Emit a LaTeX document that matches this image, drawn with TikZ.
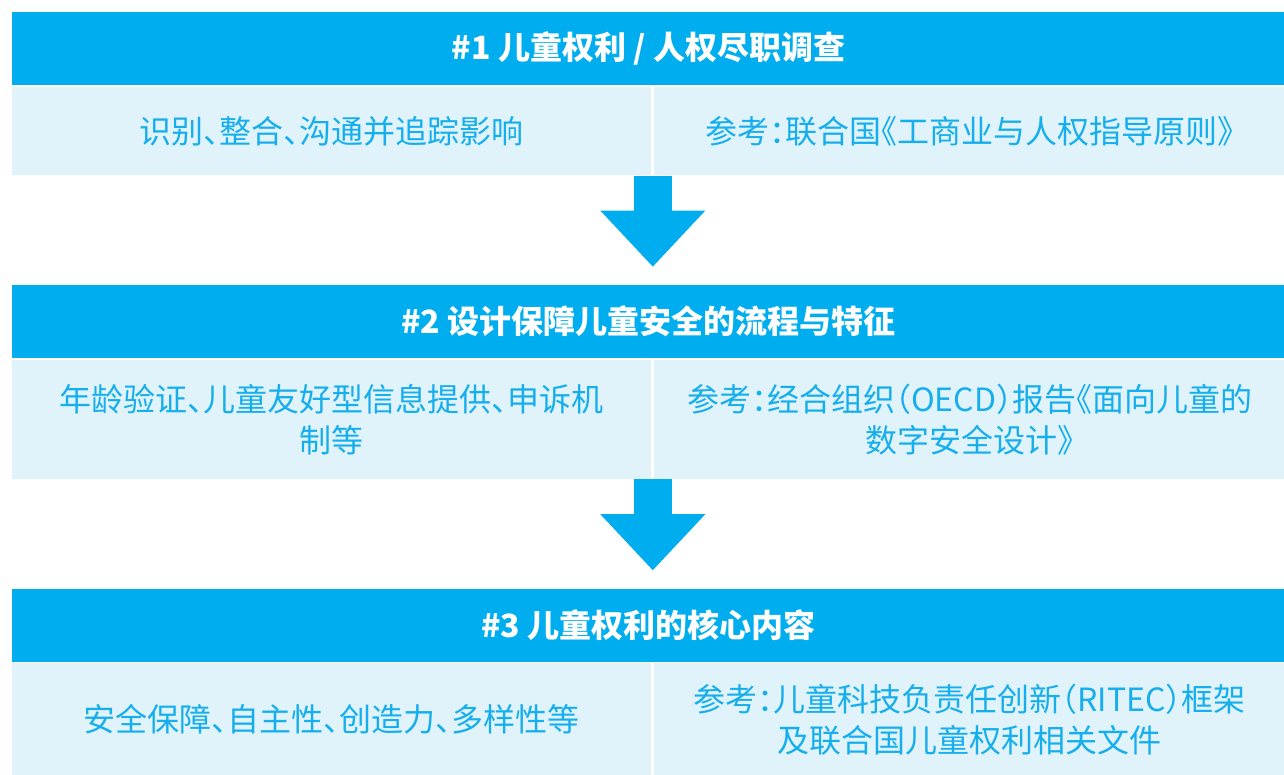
\documentclass[tikz,border=0pt]{standalone}
\usepackage{fontspec}
\setmainfont[RawFeature={+halt}]{Noto Sans CJK SC}
\usepackage{tikz}
\usetikzlibrary{arrows.meta,positioning,calc}
\definecolor{headblue}{HTML}{00AEEF}
\definecolor{cellblue}{HTML}{E0F3FB}
\definecolor{textblue}{HTML}{16AEEC}

\begin{document}
\begin{tikzpicture}[
    head/.style={rectangle, fill=headblue, text=white, font=\bfseries\fontsize{16pt}{20pt}\selectfont, minimum width=636pt, minimum height=36.5pt, inner sep=0pt, anchor=north west},
    cell/.style={rectangle, fill=cellblue, text=textblue, font=\fontsize{16pt}{20.5pt}\selectfont, inner sep=0pt, align=center},
    leftcell/.style={cell, minimum width=319.5pt},
    rightcell/.style={cell, minimum width=315.5pt},
    bigarrow/.style={headblue, line width=19pt, -{Triangle[length=28pt, width=52.5pt, line width=0pt]}, shorten >=9pt}
]
    \useasboundingbox (0,0) rectangle (642pt,-387.5pt);

    % section 1
    \node[head] (h1) at (6pt,-6pt) {\#1 儿童权利 / 人权尽职调查};
    \node[leftcell, minimum height=44pt, below right=0.5pt and 0pt of h1.south west] (l1) {识别、整合、沟通并追踪影响};
    \node[rightcell, minimum height=44pt, right=1pt of l1] (r1) {参考：联合国《工商业与人权指导原则》};

    % section 2
    \node[head, below right=54.5pt and 0pt of l1.south west] (h2) {\#2 设计保障儿童安全的流程与特征};
    \node[leftcell, minimum height=59.5pt, below right=0.5pt and 0pt of h2.south west] (l2) {年龄验证、儿童友好型信息提供、申诉机\\制等};
    \node[rightcell, minimum height=59.5pt, right=1pt of l2] (r2) {参考：经合组织（OECD）报告《面向儿童的\\数字安全设计》};

    % section 3
    \node[head, below right=54.5pt and 0pt of l2.south west] (h3) {\#3 儿童权利的核心内容};
    \node[leftcell, minimum height=56pt, below right=0.5pt and 0pt of h3.south west] (l3) {安全保障、自主性、创造力、多样性等};
    \node[rightcell, minimum height=56pt, right=1pt of l3] (r3) {参考：儿童科技负责任创新（RITEC）框架\\及联合国儿童权利相关文件};

    % big arrows
    \coordinate (a1) at ($(l1.south east)!0.5!(r1.south west)$);
    \coordinate (a2) at ($(l2.south east)!0.5!(r2.south west)$);
    \draw[bigarrow] (a1) -- (a1 |- h2.north);
    \draw[bigarrow] (a2) -- (a2 |- h3.north);
\end{tikzpicture}
\end{document}
